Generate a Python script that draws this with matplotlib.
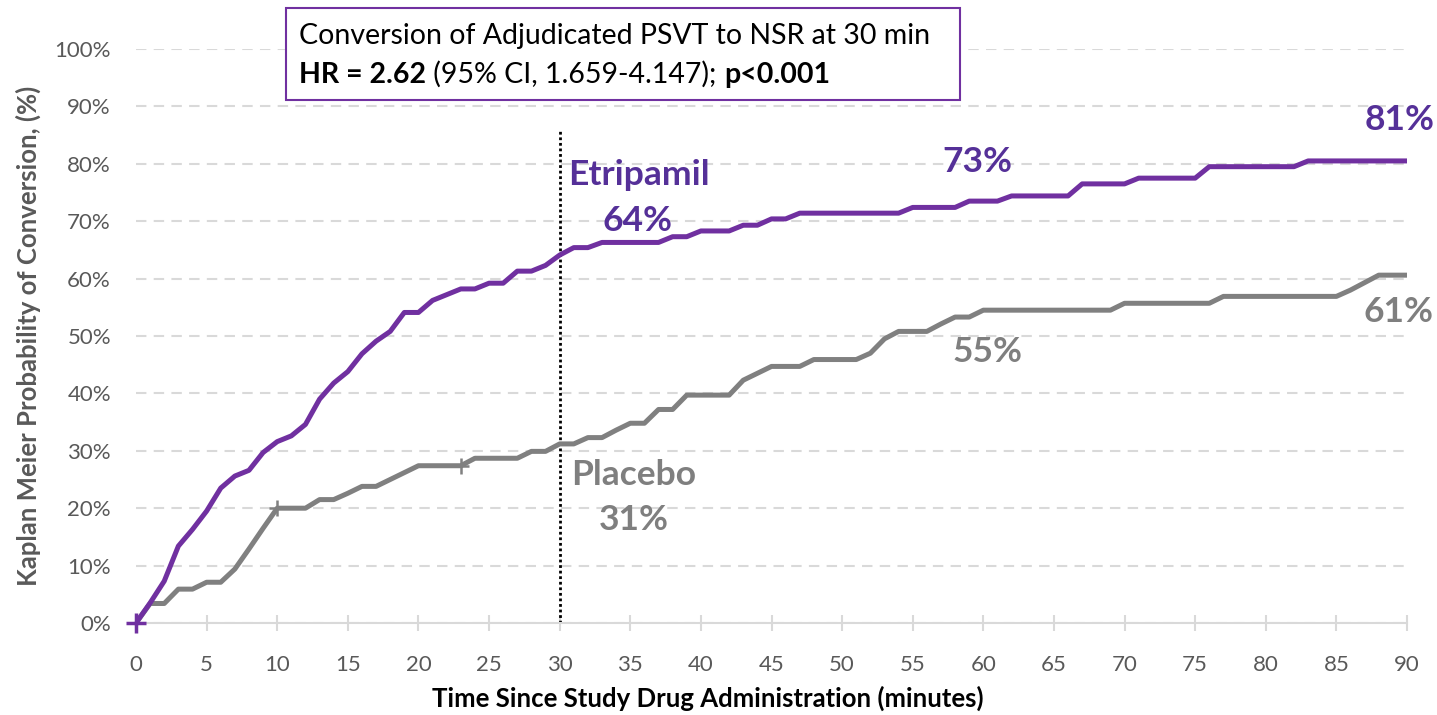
import matplotlib.pyplot as plt
from matplotlib.patches import Rectangle

# Kaplan-Meier conversion (%), one value per minute
minutes = list(range(0, 91))

etripamil = [
    0, 3.5, 7.3, 13.4, 16.3, 19.5, 23.5, 25.6, 26.6, 29.7,
    31.6, 32.6, 34.6, 39.0, 41.8, 43.8, 46.9, 49.1, 50.8, 54.1,
    54.1, 56.2, 57.2, 58.2, 58.2, 59.2, 59.2, 61.3, 61.3, 62.3,
    64.1, 65.4, 65.4, 66.3, 66.3, 66.3, 66.3, 66.3, 67.3, 67.3,
    68.3, 68.3, 68.3, 69.3, 69.3, 70.4, 70.4, 71.4, 71.4, 71.4,
    71.4, 71.4, 71.4, 71.4, 71.4, 72.4, 72.4, 72.4, 72.4, 73.5,
    73.5, 73.5, 74.4, 74.4, 74.4, 74.4, 74.4, 76.5, 76.5, 76.5,
    76.5, 77.5, 77.5, 77.5, 77.5, 77.5, 79.5, 79.5, 79.5, 79.5,
    79.5, 79.5, 79.5, 80.5, 80.5, 80.5, 80.5, 80.5, 80.5, 80.5,
    80.5,
]

placebo = [
    0, 3.4, 3.4, 5.9, 5.9, 7.1, 7.1, 9.4, 12.9, 16.5,
    20.0, 20.0, 20.0, 21.5, 21.5, 22.6, 23.8, 23.8, 25.0, 26.2,
    27.4, 27.4, 27.4, 27.4, 28.7, 28.7, 28.7, 28.7, 29.9, 29.9,
    31.2, 31.2, 32.3, 32.3, 33.6, 34.8, 34.8, 37.2, 37.2, 39.7,
    39.7, 39.7, 39.7, 42.3, 43.5, 44.7, 44.7, 44.7, 45.9, 45.9,
    45.9, 45.9, 47.0, 49.5, 50.8, 50.8, 50.8, 52.1, 53.3, 53.3,
    54.5, 54.5, 54.5, 54.5, 54.5, 54.5, 54.5, 54.5, 54.5, 54.5,
    55.7, 55.7, 55.7, 55.7, 55.7, 55.7, 55.7, 56.9, 56.9, 56.9,
    56.9, 56.9, 56.9, 56.9, 56.9, 56.9, 58.0, 59.3, 60.6, 60.6,
    60.6,
]

# censor marks (minutes)
etripamil_censor = [0]
placebo_censor = [10, 23]

x_ticks = list(range(0, 91, 5))
y_ticks = list(range(0, 101, 10))

PURPLE = '#7030A0'
PURPLE_TXT = '#553098'
GREY = '#808080'
GREY_TXT = '#7F7F7F'
AXIS_TXT = '#595959'

plt.rcParams['font.family'] = 'Lato'

fig = plt.figure(figsize=(14.37, 7.15), dpi=100)
ax = fig.add_axes([136 / 1437, 1 - 623 / 715, (1407 - 136) / 1437, (623 - 49) / 715])

# curves
ax.plot(minutes, placebo, color=GREY, lw=3.6, solid_joinstyle='round', zorder=3)
ax.plot(minutes, etripamil, color=PURPLE, lw=3.6, solid_joinstyle='round', zorder=4)

ax.plot(placebo_censor, [placebo[t] for t in placebo_censor], '+',
        color=GREY, ms=11, mew=1.8, zorder=5)
ax.plot(etripamil_censor, [etripamil[t] for t in etripamil_censor], '+',
        color=PURPLE, ms=15, mew=2.5, zorder=6, clip_on=False)

# 30 minute marker
ax.plot([30, 30], [0, 86], color='black', lw=2, ls=(0, (1, 1)), zorder=2)

# axes styling
ax.set_xlim(0, 90)
ax.set_ylim(0, 100)
ax.set_xticks(x_ticks)
ax.set_yticks(y_ticks)
ax.set_yticklabels([f'{v}%' for v in y_ticks])
ax.grid(axis='y', color='#D9D9D9', lw=1.5, ls=(0, (5, 3.5)), zorder=0)
for s in ['left', 'right', 'top']:
    ax.spines[s].set_visible(False)
ax.spines['bottom'].set_color('#D9D9D9')
ax.spines['bottom'].set_linewidth(1.5)
ax.tick_params(axis='x', direction='inout', length=12, width=1.5, color='#D9D9D9',
               labelsize=16, labelcolor=AXIS_TXT, pad=17)
ax.tick_params(axis='y', length=0, labelsize=16, labelcolor=AXIS_TXT, pad=18)

ax.set_xlabel('Time Since Study Drug Administration (minutes)', fontsize=18.5,
              fontweight='bold', color='black', labelpad=8)
ax.xaxis.label.set_x((708 - 136) / 1271)
ax.set_ylabel('Kaplan Meier Probability of Conversion, (%)', fontsize=18.5,
              fontweight='bold', color=AXIS_TXT, labelpad=10)

# curve labels
labels = [
    ('Etripamil', 35.6, 78.1, PURPLE_TXT),
    ('64%', 35.5, 70.0, PURPLE_TXT),
    ('73%', 59.55, 80.4, PURPLE_TXT),
    ('81%', 89.5, 87.6, PURPLE_TXT),
    ('Placebo', 35.25, 25.8, GREY_TXT),
    ('31%', 35.25, 17.9, GREY_TXT),
    ('55%', 60.3, 47.2, GREY_TXT),
    ('61%', 89.4, 54.2, GREY_TXT),
]
for txt, lx, ly, c in labels:
    ax.text(lx, ly, txt, ha='center', va='center', fontsize=25.5,
            fontweight='bold', color=c, zorder=7)

# stats box
ax.add_patch(Rectangle((286 / 1437, 1 - 100 / 715), (960 - 286) / 1437, 92 / 715,
                       transform=fig.transFigure, clip_on=False,
                       facecolor='white', edgecolor=PURPLE, lw=1.5, zorder=10))
ax.text(299 / 1437, 1 - 36 / 715, 'Conversion of Adjudicated PSVT to NSR at 30 min',
        transform=fig.transFigure, fontsize=20.5, va='center', ha='left', zorder=11)
t1 = ax.text(299 / 1437, 1 - 88 / 715, 'HR = 2.62', transform=fig.transFigure,
             fontsize=20.5, fontweight='bold', va='bottom', ha='left', zorder=11)
t2 = ax.annotate(' (95% CI, 1.659-4.147); ', xy=(1, 0), xycoords=t1,
                 fontsize=20.5, va='bottom', ha='left', zorder=11,
                 annotation_clip=False)
t3 = ax.annotate('p<0.001', xy=(1, 0), xycoords=t2, fontsize=20.5,
                 fontweight='bold', va='bottom', ha='left', zorder=11,
                 annotation_clip=False)

fig.savefig('out.png', dpi=100)
